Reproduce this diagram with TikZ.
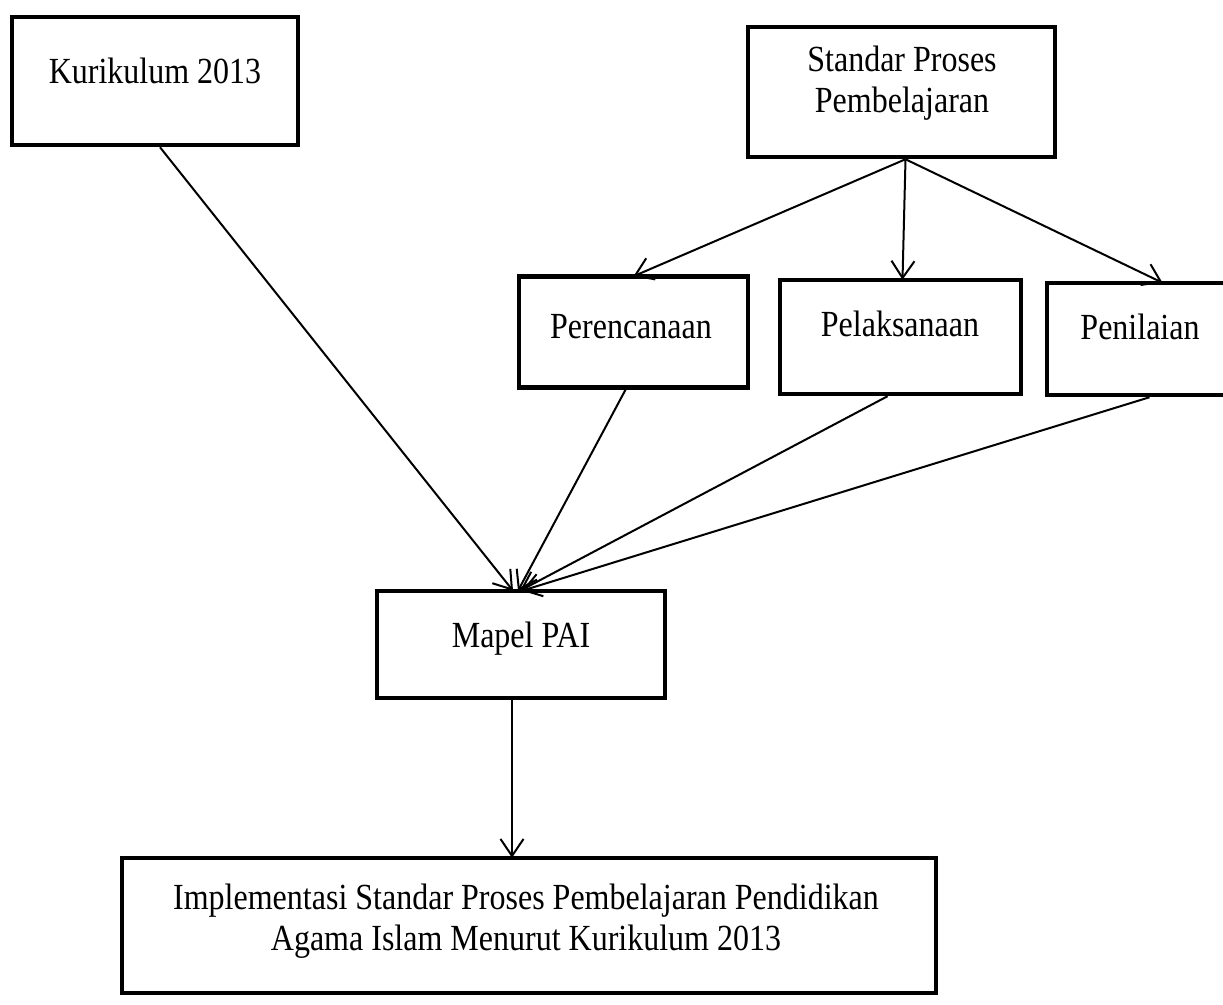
\documentclass[tikz,border=0pt]{standalone}
\usepackage{fontspec}
\setmainfont{Liberation Serif}
\usetikzlibrary{arrows.meta}
\begin{document}
\begin{tikzpicture}[x=1pt,y=-1pt,
  box/.style={draw, line width=4.5pt, rectangle, inner sep=0pt},
  txt/.style={font=\fontsize{32}{35}\selectfont, inner sep=0pt, align=center, yscale=1.15},
  conn/.style={line width=2pt, -{Straight Barb[length=17pt,width=23pt,line width=2pt]}}
]
\useasboundingbox[fill=white] (0,0) rectangle (1223,1004);
% boxes
\node[box, minimum width=286pt, minimum height=128pt] (kur) at (155,81) {};
\node[box, minimum width=307pt, minimum height=130pt] (std) at (901.5,92) {};
\node[box, minimum width=229pt, minimum height=111pt] (per) at (633.5,332) {};
\node[box, minimum width=241pt, minimum height=114pt] (pel) at (900.5,337) {};
\node[box, minimum width=185pt, minimum height=112pt] (pen) at (1139.5,339) {};
\node[box, minimum width=288pt, minimum height=107pt] (map) at (521,644.5) {};
\node[box, minimum width=814pt, minimum height=135pt] (bot) at (529,925.5) {};
% texts
\node[txt, anchor=base] (tkur) at (155,83) {Kurikulum 2013};
\node[txt, anchor=base] (tstd) at (902,112) {Standar Proses\\Pembelajaran};
\node[txt, anchor=base] (tper) at (631,338) {Perencanaan};
\node[txt, anchor=base] (tpel) at (900,336) {Pelaksanaan};
\node[txt, anchor=base] (tpen) at (1140,339) {Penilaian};
\node[txt, anchor=base] (tmap) at (521,647) {Mapel PAI};
\node[txt, anchor=base] (tbot) at (526,950) {Implementasi Standar Proses Pembelajaran Pendidikan\\Agama Islam Menurut Kurikulum 2013};
% connectors
\draw[conn] ([xshift=5pt]kur.south) -- ([xshift=-8pt,yshift=-2pt]map.north);
\draw[conn] ([xshift=4pt]std.south) -- ([yshift=-2pt]per.north);
\draw[conn] ([xshift=4pt]std.south) -- ([xshift=2pt,yshift=-2pt]pel.north);
\draw[conn] ([xshift=4pt]std.south) -- ([xshift=23pt,yshift=-2pt]pen.north);
\draw[conn] ([xshift=-8pt]per.south) -- ([xshift=-3pt,yshift=-2pt]map.north);
\draw[conn] ([xshift=-13pt]pel.south) -- ([xshift=-1pt,yshift=-2pt]map.north);
\draw[conn] ([xshift=10pt]pen.south) -- ([xshift=1pt,yshift=-2pt]map.north);
\draw[conn] ([xshift=-9pt]map.south) -- ([xshift=-9pt,yshift=-2pt]map.south |- bot.north);
\end{tikzpicture}
\end{document}
